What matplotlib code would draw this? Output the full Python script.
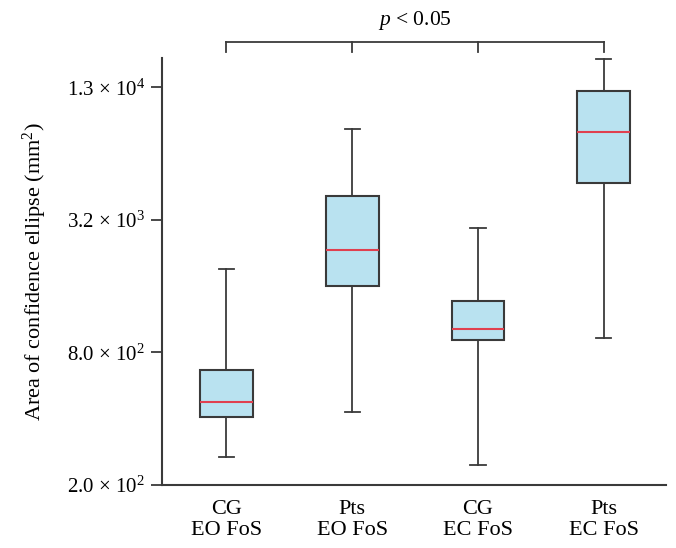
import matplotlib
matplotlib.use("Agg")
import matplotlib.pyplot as plt
from matplotlib.ticker import FixedLocator, NullLocator

plt.rcParams['font.family'] = ['Liberation Serif', 'DejaVu Serif']
plt.rcParams['mathtext.fontset'] = 'custom'
plt.rcParams['mathtext.rm'] = 'Liberation Serif'
plt.rcParams['mathtext.it'] = 'Liberation Serif:italic'

categories = ["CG\nEO FoS", "Pts\nEO FoS", "CG\nEC FoS", "Pts\nEC FoS"]
whisker_low = [269, 429, 246, 930]
q1 = [408, 1611, 913, 4690]
median = [478, 2348, 1019, 8060]
q3 = [669, 4094, 1371, 12320]
whisker_high = [1920, 8300, 2946, 17250]

ytick_values = [200, 800, 3200, 12800]
ytick_labels = ["2.0 \u00d7 10$^{2}$", "8.0 \u00d7 10$^{2}$",
                "3.2 \u00d7 10$^{3}$", "1.3 \u00d7 10$^{4}$"]
ylabel = "Area of confidence ellipse (mm$^{2}$)"
sig_text = "$p$ < 0.05"

fig = plt.figure(figsize=(6.76, 5.48), dpi=100)
ax = fig.add_axes([0.2396, 0.115, 0.745, 0.779])

stats = []
for i in range(len(categories)):
    stats.append(dict(whislo=whisker_low[i], q1=q1[i], med=median[i],
                      q3=q3[i], whishi=whisker_high[i], fliers=[], label=categories[i]))

positions = list(range(1, len(categories) + 1))
edge = '#3a3a3a'
ax.bxp(stats, positions=positions, widths=0.42, patch_artist=True, showfliers=False,
       capwidths=0.12,
       boxprops=dict(facecolor='#b9e2f0', edgecolor=edge, linewidth=1.5),
       medianprops=dict(color='#e0404f', linewidth=1.5),
       whiskerprops=dict(color=edge, linewidth=1.3),
       capprops=dict(color=edge, linewidth=1.3))

ax.set_yscale('log')
ax.set_ylim(200, 17400)
ax.set_xlim(0.49, 4.49)
ax.yaxis.set_major_locator(FixedLocator(ytick_values))
ax.yaxis.set_minor_locator(NullLocator())
ax.set_yticklabels(ytick_labels)
ax.set_xticks(positions)
ax.set_xticklabels(categories, fontsize=16, linespacing=1.15)
ax.tick_params(axis='x', length=0, pad=11)
ax.tick_params(axis='y', length=8, width=1.3, color=edge, labelsize=15, pad=4)

for s in ['top', 'right']:
    ax.spines[s].set_visible(False)
for s in ['left', 'bottom']:
    ax.spines[s].set_color(edge)
    ax.spines[s].set_linewidth(1.5)

ax.set_ylabel(ylabel, fontsize=16)
ax.yaxis.set_label_coords(-0.225, 0.5)

# significance bracket
trans = ax.get_xaxis_transform()
yb = 1.0375
yt = 1.014
ax.plot([positions[0], positions[-1]], [yb, yb], color=edge, lw=1.3,
        transform=trans, clip_on=False)
for p in positions:
    ax.plot([p, p], [yb, yt], color=edge, lw=1.3, transform=trans, clip_on=False)
ax.text((positions[0] + positions[-1]) / 2, 1.087, sig_text, transform=trans,
        ha='center', va='center', fontsize=15.5)

fig.savefig("out.png", dpi=100)
